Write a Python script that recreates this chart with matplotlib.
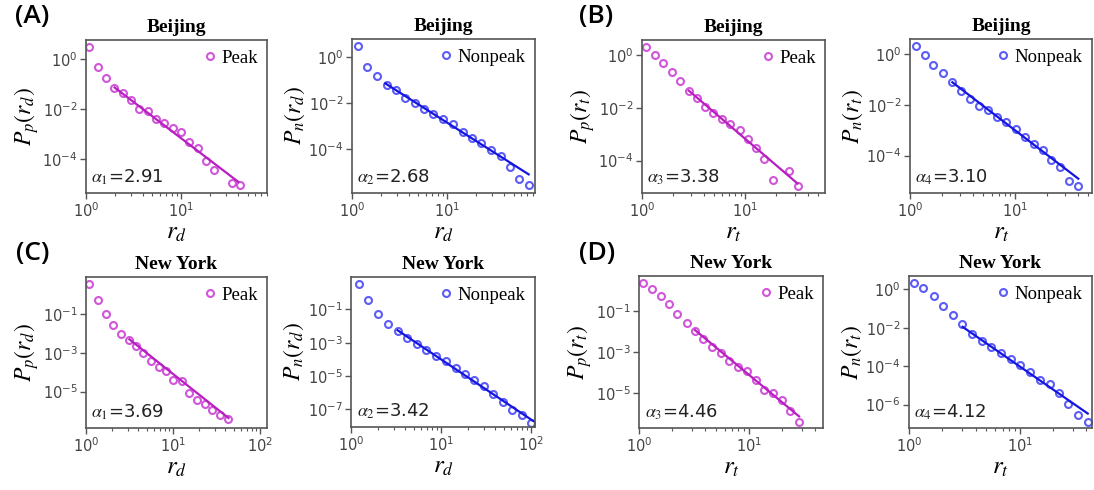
import matplotlib.pyplot as plt
from matplotlib.ticker import FixedLocator, LogLocator, NullFormatter

# ---- data ----
# (A) Beijing, r_d
bj_peak_rd_x = [1.08, 1.33, 1.62, 1.99, 2.43, 2.98, 3.64, 4.46, 5.46, 6.6, 8.2, 10, 12.2, 15, 18.2, 22.3, 34, 41.8]
bj_peak_rd_y = [3.2, 0.5, 0.18, 0.074, 0.043, 0.023, 0.01, 0.0085, 0.0042, 0.0028, 0.0017, 0.0012,
                4.8e-4, 2.8e-4, 8.3e-5, 3.5e-5, 1.07e-5, 9.3e-6]
bj_peak_rd_fit_x = [2.0, 40]
bj_peak_rd_fit_y = [0.074, 1.2e-5]

bj_non_rd_x = [1.16, 1.45, 1.85, 2.33, 2.9, 3.61, 4.57, 5.68, 7.18, 9.13, 11.6, 14.6, 18.3, 22.8, 28.6, 37, 45.7, 57, 72.4]
bj_non_rd_y = [2.93, 0.39, 0.15, 0.062, 0.036, 0.017, 0.0103, 0.0055, 0.0035, 0.0021, 0.0012, 5.5e-4,
               3.0e-4, 1.8e-4, 8.7e-5, 4.9e-5, 1.6e-5, 5e-6, 2.8e-6]
bj_non_rd_fit_x = [2.24, 72]
bj_non_rd_fit_y = [0.072, 7.8e-6]

# (B) Beijing, r_t
bj_peak_rt_x = [1.1, 1.34, 1.61, 1.94, 2.33, 2.83, 3.38, 4.07, 4.9, 5.9, 7.1, 8.8, 10.5, 12.6, 15.1, 18.4, 26.7, 32]
bj_peak_rt_y = [2.07, 1.0, 0.48, 0.22, 0.10, 0.045, 0.0225, 0.011, 0.0065, 0.0037, 0.0024, 0.0014,
                6.3e-4, 3.0e-4, 1.1e-4, 1.9e-5, 3.9e-5, 1.1e-5]
bj_peak_rt_fit_x = [2.83, 32]
bj_peak_rt_fit_y = [0.045, 1.35e-5]

bj_non_rt_x = [1.14, 1.4, 1.67, 2.04, 2.53, 3.08, 3.73, 4.49, 5.55, 6.8, 8.2, 10.1, 12.4, 15, 18.3, 22, 26.8, 32.7, 40]
bj_non_rt_y = [1.95, 0.91, 0.37, 0.18, 0.076, 0.036, 0.016, 0.0091, 0.0062, 0.0034, 0.0021, 0.0011,
               5.5e-4, 2.8e-4, 1.6e-4, 6.6e-5, 3.6e-5, 1.0e-5, 6.3e-6]
bj_non_rt_fit_x = [2.53, 40]
bj_non_rt_fit_y = [0.076, 1.24e-5]

# (C) New York, r_d
ny_peak_rd_x = [1.09, 1.36, 1.7, 2.06, 2.5, 3.15, 3.76, 4.56, 5.58, 6.9, 8.3, 10.1, 12.6, 15.3, 19, 23.1, 28.3, 34.7, 42.5]
ny_peak_rd_y = [3.5, 0.57, 0.1, 0.026, 0.0093, 0.0046, 0.0023, 0.0010, 3.8e-4, 1.9e-4, 1.2e-4, 4e-5,
                3.3e-5, 8.3e-6, 3.5e-6, 2.3e-6, 1.15e-6, 6.3e-7, 4e-7]
ny_peak_rd_fit_x = [3.15, 43.3]
ny_peak_rd_fit_y = [0.005, 4.3e-7]

ny_non_rd_x = [1.22, 1.55, 2.0, 2.58, 3.3, 4.19, 5.37, 6.8, 8.7, 11.4, 14.7, 18.5, 23.3, 29.8, 38, 48.4, 61.5, 78.7, 100]
ny_non_rd_y = [3.2, 0.35, 0.05, 0.0138, 0.0048, 0.002, 8.7e-4, 3.5e-4, 1.5e-4, 7.6e-5, 3.2e-5, 1.4e-5,
               5.5e-6, 2.4e-6, 8.7e-7, 2.75e-7, 8.7e-8, 4.4e-8, 1.5e-8]
ny_non_rd_fit_x = [3.3, 106]
ny_non_rd_fit_y = [0.0055, 2e-8]

# (D) New York, r_t
ny_peak_rt_x = [1.09, 1.31, 1.58, 1.89, 2.23, 2.71, 3.23, 3.85, 4.64, 5.56, 6.62, 7.9, 9.66, 11.5, 13.7, 16.5, 19.8, 23.6, 28.5]
ny_peak_rt_y = [2.44, 1.24, 0.54, 0.21, 0.071, 0.027, 0.0105, 0.0041, 0.0018, 9.1e-4, 3.7e-4, 1.9e-4,
                1.2e-4, 4.1e-5, 1.35e-5, 1.04e-5, 4.4e-6, 1.3e-6, 3.8e-7]
ny_peak_rt_fit_x = [3.23, 28.5]
ny_peak_rt_fit_y = [0.0117, 7.2e-7]

ny_non_rt_x = [1.11, 1.35, 1.69, 2.04, 2.48, 3.01, 3.69, 4.57, 5.56, 6.8, 8.3, 10.1, 12.5, 15.3, 18.6, 22.8, 27.5, 33.4, 41.2]
ny_non_rt_y = [2.2, 1.13, 0.45, 0.135, 0.046, 0.015, 0.005, 0.0021, 0.001, 4.6e-4, 2.3e-4, 1.12e-4,
               5e-5, 1.85e-5, 1.15e-5, 4.2e-6, 1.1e-6, 3e-7, 1.25e-7]
ny_non_rt_fit_x = [3.05, 41.2]
ny_non_rt_fit_y = [0.0112, 3.4e-7]

alphas = ['2.91', '2.68', '3.38', '3.10', '3.69', '3.42', '4.46', '4.12']

PEAK_M, PEAK_L = '#cc44d6', '#b81fc0'
NON_M, NON_L = '#4a4af5', '#1515e0'

W, H = 1094, 490
fig = plt.figure(figsize=(W / 100, H / 100), dpi=100)


def box(l, t, r, b):
    return [l / W, 1 - b / H, (r - l) / W, (b - t) / H]


panels = [
    # box, title, series, ylabel, xlabel, legend, alpha idx, colours, xlim, ylim, yticks
    (box(86, 40, 267, 193), 'Beijing', (bj_peak_rd_x, bj_peak_rd_y, bj_peak_rd_fit_x, bj_peak_rd_fit_y),
     r'$P_p(r_d)$', r'$r_d$', 'Peak', 1, (PEAK_M, PEAK_L), (1, 80), (4.3e-6, 6.0), [1, 1e-2, 1e-4]),
    (box(352, 39, 535, 193), 'Beijing', (bj_non_rd_x, bj_non_rd_y, bj_non_rd_fit_x, bj_non_rd_fit_y),
     r'$P_n(r_d)$', r'$r_d$', 'Nonpeak', 2, (NON_M, NON_L), (1, 84), (1.2e-6, 6.2), [1, 1e-2, 1e-4]),
    (box(642, 40, 825, 193), 'Beijing', (bj_peak_rt_x, bj_peak_rt_y, bj_peak_rt_fit_x, bj_peak_rt_fit_y),
     r'$P_p(r_t)$', r'$r_t$', 'Peak', 3, (PEAK_M, PEAK_L), (1, 59), (5.9e-6, 3.7), [1, 1e-2, 1e-4]),
    (box(910, 39, 1092, 193), 'Beijing', (bj_non_rt_x, bj_non_rt_y, bj_non_rt_fit_x, bj_non_rt_fit_y),
     r'$P_n(r_t)$', r'$r_t$', 'Nonpeak', 4, (NON_M, NON_L), (1, 54), (3.4e-6, 3.8), [1, 1e-2, 1e-4]),
    (box(86, 277, 267, 428), 'New York', (ny_peak_rd_x, ny_peak_rd_y, ny_peak_rd_fit_x, ny_peak_rd_fit_y),
     r'$P_p(r_d)$', r'$r_d$', 'Peak', 1, (PEAK_M, PEAK_L), (1, 120), (1.3e-7, 8.3), [1e-1, 1e-3, 1e-5]),
    (box(351, 277, 535, 427), 'New York', (ny_non_rd_x, ny_non_rd_y, ny_non_rd_fit_x, ny_non_rd_fit_y),
     r'$P_n(r_d)$', r'$r_d$', 'Nonpeak', 2, (NON_M, NON_L), (1, 111), (8.7e-9, 8.7), [1e-1, 1e-3, 1e-5, 1e-7]),
    (box(639, 276, 823, 428), 'New York', (ny_peak_rt_x, ny_peak_rt_y, ny_peak_rt_fit_x, ny_peak_rt_fit_y),
     r'$P_p(r_t)$', r'$r_t$', 'Peak', 3, (PEAK_M, PEAK_L), (1, 47), (1.95e-7, 5.1), [1e-1, 1e-3, 1e-5]),
    (box(909, 276, 1092, 428), 'New York', (ny_non_rt_x, ny_non_rt_y, ny_non_rt_fit_x, ny_non_rt_fit_y),
     r'$P_n(r_t)$', r'$r_t$', 'Nonpeak', 4, (NON_M, NON_L), (1, 45), (6e-8, 5.0), [1, 1e-2, 1e-4, 1e-6]),
]

serif = 'Liberation Serif'
for i, (rect, title, (x, y, fx, fy), ylab, xlab, leg, k, (mc, lc), xl, yl, yt) in enumerate(panels):
    ax = fig.add_axes(rect)
    ax.set_xscale('log')
    ax.set_yscale('log')
    ax.plot(x, y, 'o', ms=5, mfc='none', mec=mc, mew=1.5, alpha=0.9, label=leg)
    ax.plot(fx, fy, '-', color=lc, lw=1.6)
    ax.set_xlim(*xl)
    ax.set_ylim(*yl)
    ax.yaxis.set_major_locator(FixedLocator(yt))
    ax.yaxis.set_minor_locator(FixedLocator([]))
    ax.xaxis.set_minor_locator(LogLocator(base=10, subs=range(2, 10)))
    ax.xaxis.set_minor_formatter(NullFormatter())
    for s in ax.spines.values():
        s.set_color('#555555')
        s.set_linewidth(1.2)
    ax.tick_params(which='major', length=4, width=1, color='#555555', labelcolor='#444444', labelsize=10.5, pad=2)
    ax.tick_params(which='minor', length=2.5, width=0.8, color='#555555')
    ax.set_title(title, fontfamily=serif, fontweight='bold', fontsize=14, pad=6)
    ax.set_ylabel(ylab, fontsize=17, math_fontfamily='stix', labelpad=1)
    ax.set_xlabel(xlab, fontsize=18, math_fontfamily='stix', labelpad=0)
    ax.text(0.03, 0.04, r'$\alpha_%d$=%s' % (k, alphas[i]), transform=ax.transAxes,
            fontsize=13, math_fontfamily='stix', color='#222222', ha='left', va='bottom')
    ax.legend(loc='upper right', frameon=False, handlelength=0.6, handletextpad=0.3,
              borderaxespad=0.3, borderpad=0.2, prop={'family': serif, 'size': 13.5})

for lab, px, py in [('(A)', 15, 4), ('(B)', 579, 4), ('(C)', 16, 241), ('(D)', 579, 241)]:
    fig.text(px / W, 1 - py / H, lab, fontsize=19, fontfamily='Open Sans', fontweight='semibold',
             va='top', ha='left')

plt.savefig('out.png', dpi=100)
